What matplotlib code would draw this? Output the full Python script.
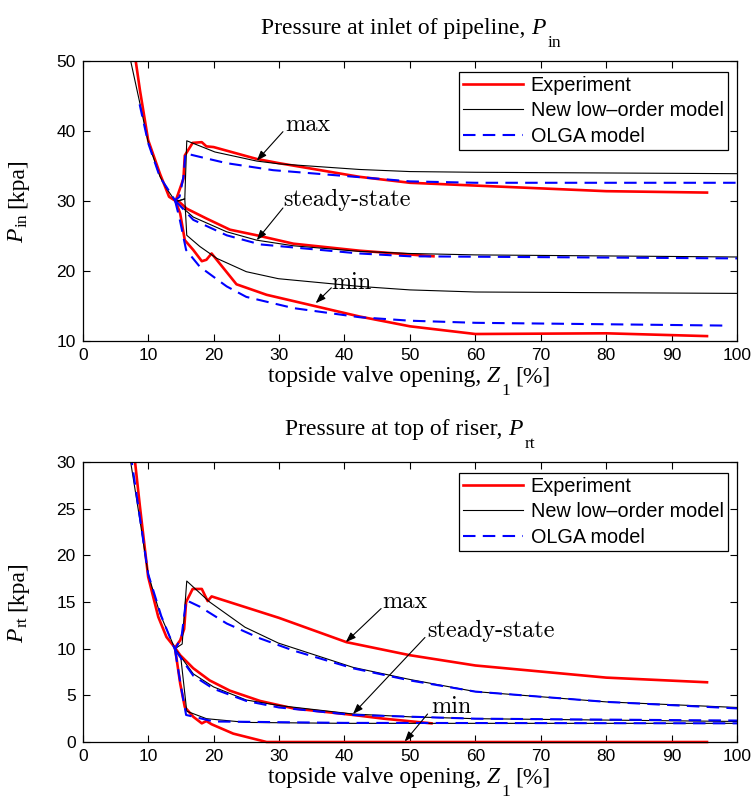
import matplotlib
matplotlib.use('Agg')
import matplotlib.pyplot as plt

plt.rcParams['font.family'] = 'Liberation Sans'

# ---- top: pressure at inlet of pipeline ----
pin_exp_desc_x = [7.9, 8.1, 8.75, 10, 11.8, 13.2, 14.2]
pin_exp_desc_y = [51.5, 50, 45.8, 38.7, 33.9, 30.6, 30.0]
pin_exp_max_x = [14.2, 15.4, 15.6, 16.8, 18.2, 18.9, 20, 26.6, 30, 42.3, 50, 60, 80, 95.4]
pin_exp_max_y = [30.0, 33.2, 36.5, 38.3, 38.4, 37.8, 37.7, 36.0, 35.4, 33.45, 32.6, 32.2, 31.4, 31.2]
pin_exp_ss_x = [14.2, 14.6, 15.9, 18.9, 22.5, 26.6, 32.2, 42.3, 53.6]
pin_exp_ss_y = [30.0, 30.0, 28.9, 27.5, 25.9, 25.1, 23.9, 22.9, 22.1]
pin_exp_min_x = [14.2, 14.9, 15.6, 16.9, 18.2, 18.9, 19.7, 23.5, 28.1, 42.3, 50, 60, 80, 95.4]
pin_exp_min_y = [30.0, 28.2, 24.4, 23.0, 21.4, 21.6, 22.5, 18.1, 16.6, 13.5, 12.1, 11.0, 11.1, 10.7]

pin_mod_desc_x = [7.2, 7.33, 8.75, 10, 11.8, 12.8, 14.2]
pin_mod_desc_y = [51, 50, 43.9, 38.4, 33.5, 31.8, 29.9]
pin_mod_max_x = [14.2, 15.6, 15.9, 20.2, 26.6, 30, 42.3, 50, 60, 80, 100]
pin_mod_max_y = [29.9, 30.3, 38.6, 37.0, 35.7, 35.3, 34.5, 34.2, 34.1, 34.0, 33.9]
pin_mod_ss_x = [14.2, 16.9, 22, 26.6, 32.2, 42.3, 50, 60, 100]
pin_mod_ss_y = [29.9, 27.7, 25.6, 24.4, 23.6, 22.8, 22.5, 22.3, 22.0]
pin_mod_min_x = [14.2, 15.6, 15.9, 17.9, 20.5, 25, 29.9, 42.3, 50, 60, 100]
pin_mod_min_y = [29.9, 30.3, 25.1, 23.5, 21.8, 19.9, 18.9, 17.8, 17.3, 17.0, 16.8]

pin_olga_desc_x = [8.7, 10, 11.8, 12.8, 14.1]
pin_olga_desc_y = [43.8, 38.3, 33.4, 32.0, 30.1]
pin_olga_max_x = [14.1, 14.8, 15.4, 15.7, 17.9, 22, 29.1, 42.3, 50, 60, 100]
pin_olga_max_y = [30.1, 30.6, 33.5, 36.8, 36.3, 35.4, 34.4, 33.4, 32.8, 32.6, 32.6]
pin_olga_ss_x = [14.1, 16.9, 22, 27.1, 42.3, 50, 100]
pin_olga_ss_y = [30.1, 27.3, 25.1, 23.8, 22.5, 22.1, 21.8]
pin_olga_min_x = [14.1, 14.8, 15.8, 17.9, 22, 25, 32.2, 42.3, 50, 60, 98.5]
pin_olga_min_y = [30.1, 27.5, 23.0, 20.6, 17.8, 16.3, 14.7, 13.4, 12.9, 12.6, 12.2]

# ---- bottom: pressure at top of riser ----
prt_exp_desc_x = [7.9, 8.0, 8.75, 10, 11.55, 12.8, 14.1]
prt_exp_desc_y = [31, 30, 25.2, 17.7, 13.4, 11.25, 10.1]
prt_exp_max_x = [14.1, 14.9, 15.5, 15.8, 16.8, 18.2, 19.1, 19.7, 30, 40.3, 50, 60, 80, 95.4]
prt_exp_max_y = [10.1, 10.9, 12.1, 15.0, 16.4, 16.4, 15.1, 15.6, 13.3, 10.7, 9.3, 8.2, 6.9, 6.4]
prt_exp_ss_x = [14.1, 14.9, 16.9, 19.4, 22.5, 27.1, 32.2, 41.3, 46, 53.3]
prt_exp_ss_y = [10.1, 9.3, 7.9, 6.6, 5.5, 4.4, 3.6, 2.9, 2.5, 2.0]
prt_exp_min_x = [14.1, 14.9, 15.6, 16.9, 18.2, 18.9, 19.7, 23, 28.1, 95.4]
prt_exp_min_y = [10.1, 6.25, 3.75, 2.7, 2.0, 2.25, 1.9, 0.9, 0.0, 0.0]

prt_mod_desc_x = [7.2, 7.33, 8.75, 10, 11.8, 14.1]
prt_mod_desc_y = [31, 30, 23.75, 18.0, 13.75, 10.0]
prt_mod_max_x = [14.1, 15.2, 15.9, 19.4, 24.8, 29.9, 41.3, 50, 60, 80, 100]
prt_mod_max_y = [10.0, 10.5, 17.25, 15.0, 12.3, 10.6, 8.0, 6.7, 5.4, 4.3, 3.7]
prt_mod_ss_x = [14.1, 16.9, 20, 25, 30.1, 41.3, 50, 60, 100]
prt_mod_ss_y = [10.0, 7.3, 5.9, 4.5, 3.9, 3.0, 2.7, 2.5, 2.2]
prt_mod_min_x = [14.1, 15.0, 15.9, 18.9, 25, 40, 100]
prt_mod_min_y = [10.0, 9.0, 3.3, 2.5, 2.1, 2.0, 2.0]

prt_olga_desc_x = [7.4, 7.5, 8.75, 10, 12, 14.1]
prt_olga_desc_y = [31, 30, 24.0, 18.0, 13.5, 9.9]
prt_olga_max_x = [14.1, 15.1, 15.8, 17.9, 22, 27.1, 32.2, 41.3, 50, 60, 80, 100]
prt_olga_max_y = [9.9, 11.25, 15.2, 14.5, 12.7, 11.1, 9.8, 7.9, 6.6, 5.4, 4.3, 3.6]
prt_olga_ss_x = [14.1, 16.9, 20, 25, 30, 41.3, 60, 100]
prt_olga_ss_y = [9.9, 7.1, 5.7, 4.4, 3.7, 2.9, 2.5, 2.3]
prt_olga_min_x = [14.1, 15.0, 15.8, 20, 40, 100]
prt_olga_min_y = [9.9, 6.0, 2.9, 2.2, 2.05, 2.0]

x_ticks = list(range(0, 101, 10))
pin_ticks = [10, 20, 30, 40, 50]
prt_ticks = [0, 5, 10, 15, 20, 25, 30]

legend_labels = ['Experiment', 'New low\u2013order model', 'OLGA model']

# label text, text position (x, baseline y), arrow tail, arrow tip
pin_notes = [('max', (30.9, 40.05), (30.6, 39.9), (26.6, 35.75)),
             ('steady-state', (30.7, 29.3), (30.6, 29.0), (26.6, 24.4)),
             ('min', (38.0, 17.4), (38.0, 17.6), (35.6, 15.4))]
prt_notes = [('max', (45.8, 14.4), (45.6, 14.3), (40.2, 10.7)),
             ('steady-state', (52.6, 11.25), (52.3, 11.2), (41.3, 3.0)),
             ('min', (53.3, 3.1), (52.7, 3.0), (49.2, 0.05))]

serif = 'Liberation Serif'
red = '#ff0000'
blue = '#0000ff'
label_size = 17
sub_size = 12.5


def compose(ax, x, y, parts, rotation=0):
    # MATLAB-style label: pieces of (text, gap_pt, drop_pt, size, style)
    prev = None
    for text, gap, drop, size, style in parts:
        kw = dict(family=serif, fontsize=size, style=style, ha='left', va='baseline',
                  rotation=rotation, rotation_mode='anchor')
        if prev is None:
            prev = ax.text(x, y, text, transform=ax.transAxes, **kw)
        elif rotation == 0:
            prev = ax.annotate(text, xy=(1, y), xycoords=(prev, 'axes fraction'),
                               xytext=(gap, -drop), textcoords='offset points', **kw)
        else:
            prev = ax.annotate(text, xy=(x, 1), xycoords=('axes fraction', prev),
                               xytext=(drop, gap), textcoords='offset points', **kw)


def draw_panel(ax, exp, mod, olga, ylim, yticks, title, sub, title_x, ylabel_y, notes):
    for i, (xs, ys) in enumerate(exp):
        ax.plot(xs, ys, color=red, lw=1.9, label=legend_labels[0] if i == 0 else None,
                clip_on=(ys[-1] != 0))
    for i, (xs, ys) in enumerate(mod):
        ax.plot(xs, ys, color='black', lw=0.8, label=legend_labels[1] if i == 0 else None)
    for i, (xs, ys) in enumerate(olga):
        ax.plot(xs, ys, color=blue, lw=1.5, linestyle=(0, (6, 3.5)),
                label=legend_labels[2] if i == 0 else None)

    ax.set_xlim(0, 100)
    ax.set_ylim(*ylim)
    ax.set_xticks(x_ticks)
    ax.set_yticks(yticks)
    ax.tick_params(direction='in', top=True, right=True, length=5, width=0.8,
                   labelsize=12.5, pad=5)
    for s in ax.spines.values():
        s.set_linewidth(0.9)

    compose(ax, title_x, 1.0954, [(title, 0, 0, label_size, 'normal'),
                                  ('P', 4, 0, label_size, 'italic'),
                                  (sub, 2, 9, sub_size, 'normal')])
    compose(ax, 0.2832, -0.148, [('topside valve opening,', 0, 0, label_size, 'normal'),
                                 ('Z', 4, 0, label_size, 'italic'),
                                 ('1', 1, 9, sub_size, 'normal'),
                                 ('[%]', 4, 0, label_size, 'normal')])
    compose(ax, -0.0905, ylabel_y, [('P', 0, 0, label_size, 'italic'),
                                    (sub, 1, 2, sub_size, 'normal'),
                                    ('[kpa]', 4, 0, label_size, 'normal')], rotation=90)

    for text, pos, tail, tip in notes:
        ax.text(pos[0], pos[1], text, family='cmr10', fontsize=17.5, ha='left', va='baseline')
        ax.annotate('', xy=tip, xytext=tail,
                    arrowprops=dict(arrowstyle='-|>,head_length=0.6,head_width=0.22',
                                    color='black', lw=0.8, shrinkA=0, shrinkB=0))

    leg = ax.legend(loc='upper right', bbox_to_anchor=(0.986, 0.962), fontsize=14.3,
                    fancybox=False, framealpha=1, edgecolor='black', handlelength=3.0,
                    handletextpad=0.4, labelspacing=0.32, borderpad=0.22, borderaxespad=0)
    leg.get_frame().set_linewidth(0.9)


fig = plt.figure(figsize=(7.56, 8.02), dpi=100)
ax1 = fig.add_axes([0.1094, 0.5748, 0.8656, 0.3492])
ax2 = fig.add_axes([0.1094, 0.0748, 0.8656, 0.3491])

draw_panel(ax1,
           [(pin_exp_desc_x + pin_exp_max_x[1:], pin_exp_desc_y + pin_exp_max_y[1:]),
            (pin_exp_ss_x, pin_exp_ss_y), (pin_exp_min_x, pin_exp_min_y)],
           [(pin_mod_desc_x + pin_mod_max_x[1:], pin_mod_desc_y + pin_mod_max_y[1:]),
            (pin_mod_ss_x, pin_mod_ss_y), (pin_mod_min_x, pin_mod_min_y)],
           [(pin_olga_desc_x + pin_olga_max_x[1:], pin_olga_desc_y + pin_olga_max_y[1:]),
            (pin_olga_ss_x, pin_olga_ss_y), (pin_olga_min_x, pin_olga_min_y)],
           (10, 50), pin_ticks, 'Pressure at inlet of pipeline,', 'in', 0.2720, 0.35,
           pin_notes)

draw_panel(ax2,
           [(prt_exp_desc_x + prt_exp_max_x[1:], prt_exp_desc_y + prt_exp_max_y[1:]),
            (prt_exp_ss_x, prt_exp_ss_y), (prt_exp_min_x, prt_exp_min_y)],
           [(prt_mod_desc_x + prt_mod_max_x[1:], prt_mod_desc_y + prt_mod_max_y[1:]),
            (prt_mod_ss_x, prt_mod_ss_y), (prt_mod_min_x, prt_mod_min_y)],
           [(prt_olga_desc_x + prt_olga_max_x[1:], prt_olga_desc_y + prt_olga_max_y[1:]),
            (prt_olga_ss_x, prt_olga_ss_y), (prt_olga_min_x, prt_olga_min_y)],
           (0, 30), prt_ticks, 'Pressure at top of riser,', 'rt', 0.3092, 0.355,
           prt_notes)

fig.savefig('out.png', dpi=100)
